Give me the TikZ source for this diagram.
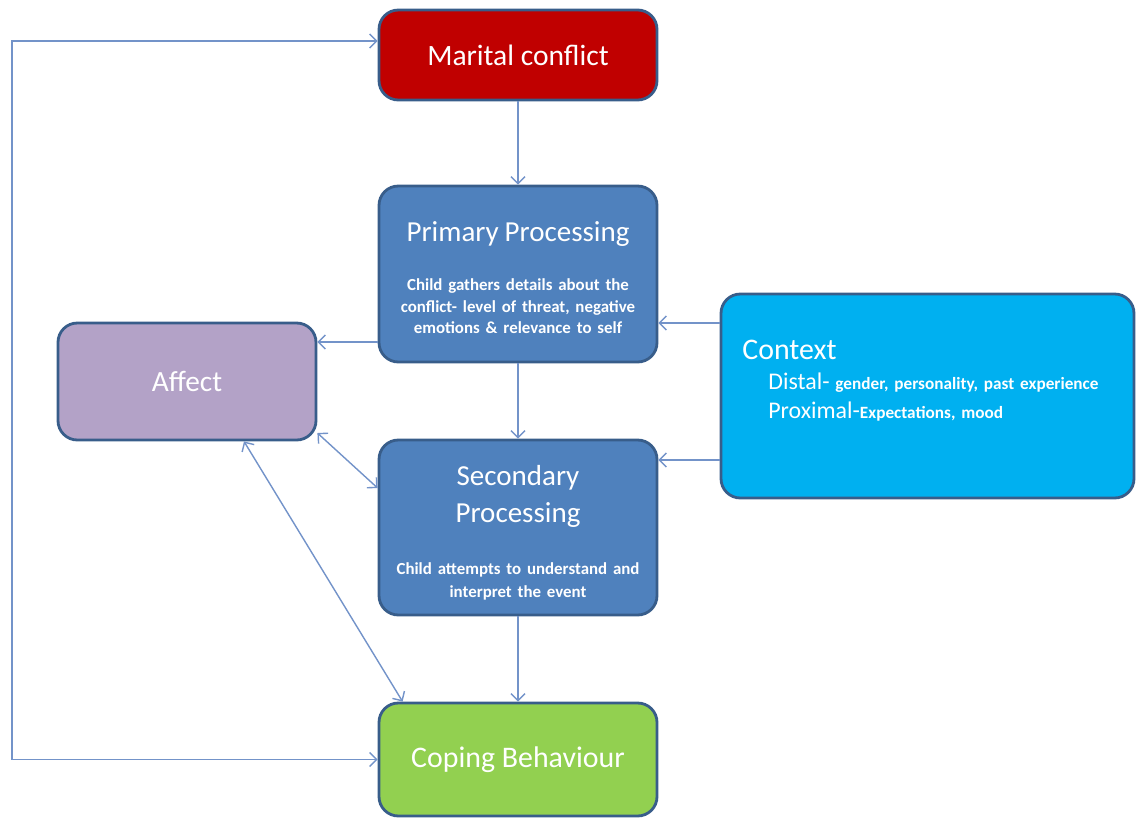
\documentclass[tikz,border=0pt]{standalone}
\usepackage{fontspec}
\setmainfont{Carlito}
\usetikzlibrary{arrows.meta,calc}

\definecolor{rimblue}{HTML}{385D8A}
\definecolor{conflictred}{HTML}{C00000}
\definecolor{procblue}{HTML}{4F81BD}
\definecolor{copegreen}{HTML}{92D050}
\definecolor{affectlilac}{HTML}{B3A2C7}
\definecolor{contextcyan}{HTML}{00B0F0}
\definecolor{linkblue}{HTML}{7393C9}

\tikzset{
  box/.style={draw=rimblue, line width=1.6pt, rounded corners=11pt,
    text=white, align=center, inner sep=0pt},
  link/.style={draw=linkblue, line width=0.8pt},
  >={Straight Barb[length=4pt,width=8pt]}
}

\begin{document}
\begin{tikzpicture}

    % Frame
    \useasboundingbox (0,0) rectangle (22.72,-16.36);

    % Boxes
    \node[box, fill=conflictred, minimum width=5.56cm, minimum height=1.8cm,
      font=\fontsize{16.8}{20}\selectfont] (mc) at (10.36,-1.10) {Marital conflict};

    \node[box, fill=procblue, minimum width=5.56cm, minimum height=3.52cm, text width=5.4cm] (pp) at (10.36,-5.48)
      {\fontsize{16.5}{20}\selectfont Primary Processing\par\vspace{16pt}
       \fontsize{9.6}{12.2}\selectfont\bfseries Child gathers details about the\\
       conflict- level of threat, negative\\
       emotions \& relevance to self\par\vspace{-4pt}};

    \node[box, fill=procblue, minimum width=5.56cm, minimum height=3.5cm, text width=5.4cm] (sp) at (10.36,-10.55)
      {\fontsize{16.5}{21}\selectfont Secondary\\ Processing\par\vspace{16pt}
       \fontsize{9.6}{13.5}\selectfont\bfseries Child attempts to understand and\\
       interpret the event\par\vspace{-6pt}};

    \node[box, fill=copegreen, minimum width=5.56cm, minimum height=2.26cm,
      font=\fontsize{17}{20}\selectfont] (cb) at (10.36,-15.19) {Coping Behaviour};

    \node[box, fill=affectlilac, minimum width=5.16cm, minimum height=2.34cm,
      font=\fontsize{16.7}{20}\selectfont] (af) at (3.74,-7.63) {Affect};

    \node[box, fill=contextcyan, minimum width=8.26cm, minimum height=4.08cm] (ctx) at (18.55,-7.92) {};
    \node[anchor=north west, align=left, text=white, inner sep=0pt, text width=8cm] (ctxtxt) at (14.84,-6.80)
      {\fontsize{17}{20}\selectfont Context\par\vspace{0.5pt}
       \leftskip=0.52cm
       \fontsize{13.6}{16.6}\selectfont Distal-~{\fontsize{9.8}{16.6}\selectfont\bfseries gender, personality, past experience}\\
       Proximal-{\fontsize{9.8}{16.6}\selectfont\bfseries Expectations, mood}\par};

    % Links
    \draw[link,->] (mc.south) -- (pp.north);
    \draw[link,->] (pp.south) -- (sp.north);
    \draw[link,->] (sp.south) -- (cb.north);

    \draw[link,->] ([yshift=-0.98cm]pp.east -| ctx.west) -- ([yshift=-0.98cm]pp.east);
    \draw[link,->] ([yshift=1.35cm]sp.east -| ctx.west) -- ([yshift=1.35cm]sp.east);

    \draw[link,->] ([yshift=-1.36cm]pp.west) -- ([yshift=-1.36cm]pp.west -| af.east);
    \draw[link,<->] ([yshift=-1.03cm]af.east) -- ([yshift=0.79cm]sp.west);
    \draw[link,<->] ([xshift=1.14cm]af.south) -- ([xshift=0.5cm]cb.north west);

    % Feedback loop
    \coordinate (loopx) at (0.24,-8);
    \draw[link,<->] ([yshift=0.28cm]mc.west) -| (loopx) |- (cb.west);

\end{tikzpicture}
\end{document}
